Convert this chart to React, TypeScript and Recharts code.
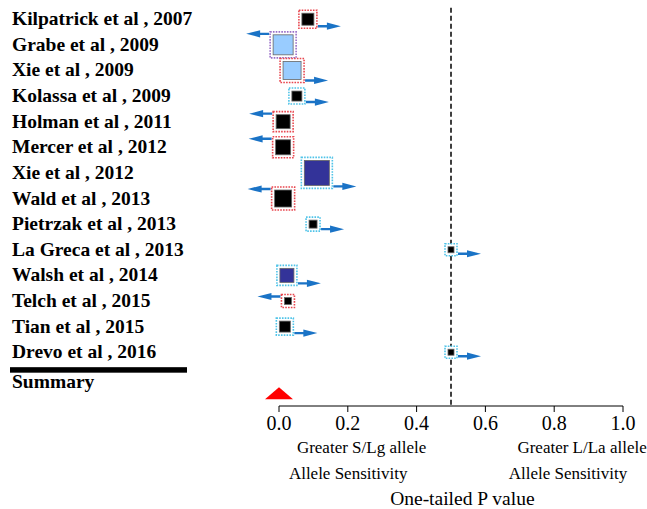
import { ScatterChart, Scatter, XAxis, YAxis, ReferenceLine } from "recharts";

const studies = [
  "Kilpatrick et al , 2007",
  "Grabe et al , 2009",
  "Xie et al , 2009",
  "Kolassa et al , 2009",
  "Holman et al , 2011",
  "Mercer et al , 2012",
  "Xie et al , 2012",
  "Wald et al , 2013",
  "Pietrzak et al , 2013",
  "La Greca et al , 2013",
  "Walsh et al , 2014",
  "Telch et al , 2015",
  "Tian et al , 2015",
  "Drevo et al , 2016",
];
// one-tailed p value per study
const pValues = [0.084, 0.012, 0.038, 0.052, 0.012, 0.012, 0.11, 0.012, 0.099, 0.5, 0.023, 0.026, 0.017, 0.5];
// relative study weight (drawn as box side)
const weights = [12, 20, 18, 10, 14, 15, 25, 17, 8, 6, 14, 7, 11, 6];
// direction of the effect arrow
const directions = ["R", "L", "R", "R", "L", "L", "R", "L", "R", "R", "R", "L", "R", "R"];
const fillGroups = ["black", "light", "light", "black", "black", "black", "dark", "black", "black", "black", "dark", "black", "black", "black"];
const borderGroups = ["red", "purple", "red", "cyan", "red", "red", "cyan", "red", "cyan", "cyan", "cyan", "red", "cyan", "cyan"];
const summaryP = 0.0;
const xTicks = [0, 0.2, 0.4, 0.6, 0.8, 1.0];

const SUMMARY_ROW = 14.6;
const SUMMARY_LABEL_ROW = 14.17;
const FONT = "Liberation Serif";

const fillColors: Record<string, string> = { black: "#000000", light: "#99ccff", dark: "#333399" };
const borderColors: Record<string, string> = { red: "#e8474f", cyan: "#4fc3e8", purple: "#9a6fc8" };
const ARROW = "#1a73c6";

const studyData = studies.map((name, i) => ({
  name,
  x: pValues[i],
  y: i,
  w: weights[i],
  dir: directions[i],
  fill: fillColors[fillGroups[i]],
  border: borderColors[borderGroups[i]],
}));
const summaryData = [{ x: summaryP, y: SUMMARY_ROW }];

function StudyBox(props: any) {
  const { cx, cy, payload } = props;
  const s = payload.w;
  const b = s + 6;
  const right = payload.dir === "R";
  const ay = right ? cy + s / 2 + 1 : cy - s / 2 - 1;
  const x0 = right ? cx + b / 2 + 1 : cx - b / 2 - 1;
  const d = right ? 1 : -1;
  return (
    <g>
      <rect x={cx - b / 2} y={cy - b / 2} width={b} height={b} fill="#fff" stroke={payload.border} strokeWidth={1.6} strokeDasharray="1.6 1.2" />
      <rect x={cx - s / 2} y={cy - s / 2} width={s} height={s} fill={payload.fill} stroke="#666" strokeWidth={0.8} />
      <path
        d={`M${x0},${ay - 1.2} L${x0 + d * 9},${ay - 1.2} L${x0 + d * 9},${ay - 3.6} L${x0 + d * 23},${ay} L${x0 + d * 9},${ay + 3.6} L${x0 + d * 9},${ay + 1.2} L${x0},${ay + 1.2} Z`}
        fill={ARROW}
      />
    </g>
  );
}

function SummaryMark(props: any) {
  const { cx, cy } = props;
  return <path d={`M${cx - 14},${cy + 6} L${cx + 14},${cy + 6} L${cx},${cy - 6} Z`} fill="#ff0000" />;
}

function StudyTick(props: any) {
  const { y, payload } = props;
  const isSummary = payload.value === SUMMARY_LABEL_ROW;
  const label = isSummary ? "Summary" : studies[payload.value];
  return (
    <g>
      {isSummary && <rect x={10} y={y - 15} width={177} height={5.5} fill="#000" />}
      <text x={12} y={y + 6} fontFamily={FONT} fontSize={19.5} fontWeight="bold" fill="#000" textAnchor="start">
        {label}
      </text>
    </g>
  );
}

function PTick(props: any) {
  const { x, y, payload } = props;
  return (
    <text x={x} y={y + 16} fontFamily={FONT} fontSize={20} fill="#000" textAnchor="middle">
      {Number(payload.value).toFixed(1)}
    </text>
  );
}

function AxisNotes(props: any) {
  const vb = props.viewBox || { x: 279, y: 406, width: 344 };
  const px = (v: number) => vb.x + v * vb.width;
  return (
    <g fill="#000" textAnchor="middle" fontFamily={FONT} fontSize={17}>
      <text x={px(0.24)} y={vb.y + 47}>Greater S/Lg allele</text>
      <text x={px(0.201)} y={vb.y + 73}>Allele Sensitivity</text>
      <text x={px(0.881)} y={vb.y + 47}>Greater L/La allele</text>
      <text x={px(0.84)} y={vb.y + 73}>Allele Sensitivity</text>
      <text x={px(0.533)} y={vb.y + 99} fontSize={19.5}>One-tailed P value</text>
    </g>
  );
}

export default function App() {
  const rowTicks = [...studies.map((_, i) => i), SUMMARY_LABEL_ROW];
  return (
    <div style={{ position: "absolute", left: 0, top: 0, background: "#fff" }}>
      <ScatterChart width={647} height={509} margin={{ top: 0, right: 24, bottom: 0, left: 0 }}>
        <XAxis
          type="number"
          dataKey="x"
          domain={[0, 1]}
          ticks={xTicks}
          height={103}
          stroke="#000"
          tickSize={6}
          tick={(p: any) => <PTick {...p} />}
          label={{ content: (p: any) => <AxisNotes {...p} /> }}
        />
        <YAxis
          type="number"
          dataKey="y"
          domain={[-0.75, 15.1]}
          reversed
          ticks={rowTicks}
          interval={0}
          width={279}
          axisLine={false}
          tickLine={false}
          tick={(p: any) => <StudyTick {...p} />}
        />
        <ReferenceLine
          segment={[{ x: 0.5, y: -0.45 }, { x: 0.5, y: 15.1 }]}
          stroke="#000"
          strokeWidth={1.5}
          strokeDasharray="5 3"
        />
        <Scatter data={studyData} shape={<StudyBox />} isAnimationActive={false} />
        <Scatter data={summaryData} shape={<SummaryMark />} isAnimationActive={false} />
      </ScatterChart>
    </div>
  );
}
